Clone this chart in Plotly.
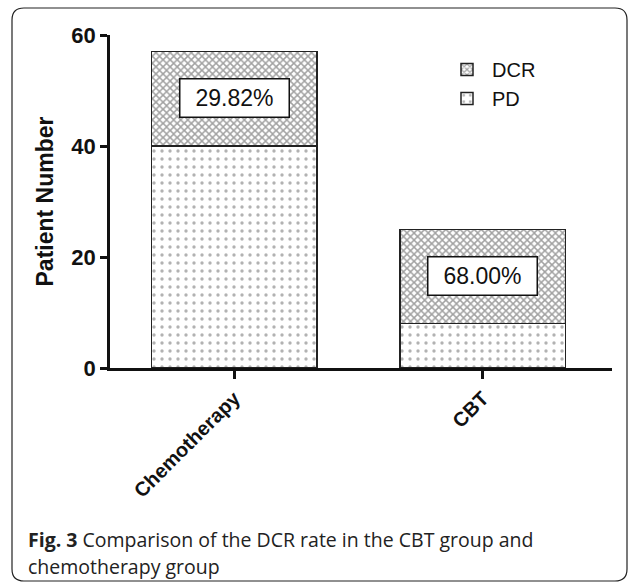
import plotly.graph_objects as go

categories = ["Chemotherapy", "CBT"]
pd_values = [40, 8]
dcr_values = [17, 17]
rate_labels = ["29.82%", "68.00%"]
rate_label_y = [48.6, 16.5]
y_ticks = [0, 20, 40, 60]

W, H = 637, 584
L, R, T, B = 110, 25, 35, 216
pw, ph = W - L - R, H - T - B

def px(x):
    return (x - L) / pw

def py(y):
    return (H - B - y) / ph

fig = go.Figure()
fig.add_trace(go.Bar(
    x=categories, y=pd_values, name="PD", width=0.667,
    marker=dict(color="white", line=dict(color="#222", width=1.5),
                pattern=dict(shape=".", fgcolor="#666", bgcolor="white", size=8, solidity=0.14)),
))
fig.add_trace(go.Bar(
    x=categories, y=dcr_values, name="DCR", width=0.667,
    marker=dict(color="white", line=dict(color="#222", width=1.5),
                pattern=dict(shape="x", fgcolor="#444", bgcolor="white", size=5, solidity=0.5)),
))

for c, t, yy in zip(categories, rate_labels, rate_label_y):
    fig.add_annotation(x=c, y=yy, text=t, showarrow=False,
                       font=dict(family="Liberation Sans, Arial", size=23, color="#111"),
                       bgcolor="white", bordercolor="#111", borderwidth=1.5,
                       width=106, height=35)

# outer rounded frame
x0, x1, y0, y1, r = 12, 627, 8, 581, 12
path = (f"M {px(x0 + r)} {py(y0)} L {px(x1 - r)} {py(y0)} Q {px(x1)} {py(y0)} {px(x1)} {py(y0 + r)} "
        f"L {px(x1)} {py(y1 - r)} Q {px(x1)} {py(y1)} {px(x1 - r)} {py(y1)} "
        f"L {px(x0 + r)} {py(y1)} Q {px(x0)} {py(y1)} {px(x0)} {py(y1 - r)} "
        f"L {px(x0)} {py(y0 + r)} Q {px(x0)} {py(y0)} {px(x0 + r)} {py(y0)} Z")
fig.add_shape(type="path", path=path, xref="paper", yref="paper",
              line=dict(color="#222", width=1.2), fillcolor="rgba(0,0,0,0)", layer="below")

cap_font = dict(family="Open Sans, Noto Sans", size=19.5, color="#222")
fig.add_annotation(xref="paper", yref="paper", x=px(26), y=py(539), xanchor="left", yanchor="middle",
                   text="<b>Fig. 3</b> Comparison of the DCR rate in the CBT group and",
                   showarrow=False, font=cap_font)
fig.add_annotation(xref="paper", yref="paper", x=px(26), y=py(566), xanchor="left", yanchor="middle",
                   text="chemotherapy group", showarrow=False, font=cap_font)

fig.update_layout(
    width=W, height=H, margin=dict(l=L, r=R, t=T, b=B, autoexpand=False),
    barmode="stack", bargap=0.3,
    plot_bgcolor="white", paper_bgcolor="white",
    showlegend=True,
    legend=dict(x=px(442), y=py(50), xanchor="left", yanchor="top", traceorder="reversed",
                font=dict(family="Liberation Sans, Arial", size=20, color="#111"),
                bgcolor="rgba(0,0,0,0)", itemwidth=40, tracegroupgap=6),
    xaxis=dict(type="category", range=[-0.5, 1.52], showline=True, linecolor="#111", linewidth=2.5,
               ticks="outside", ticklen=8, tickwidth=2.5, tickcolor="#111", tickangle=-45,
               automargin=False,
               tickfont=dict(family="Liberation Sans, Arial", size=20, color="#111", weight="bold"),
               showgrid=False, zeroline=False),
    yaxis=dict(range=[0, 60], tickvals=y_ticks, showline=True, linecolor="#111", linewidth=2.5,
               ticks="outside", ticklen=7, tickwidth=2.5, tickcolor="#111", automargin=False,
               tickfont=dict(family="Liberation Sans, Arial", size=22, color="#111", weight="bold"),
               title=dict(text="<b>Patient Number</b>", standoff=12,
                          font=dict(family="Liberation Sans, Arial", size=23, color="#111")),
               showgrid=False, zeroline=False),
)

fig.write_html("out.html", config={"displayModeBar": False},
               post_script="document.body.style.margin='0';")
